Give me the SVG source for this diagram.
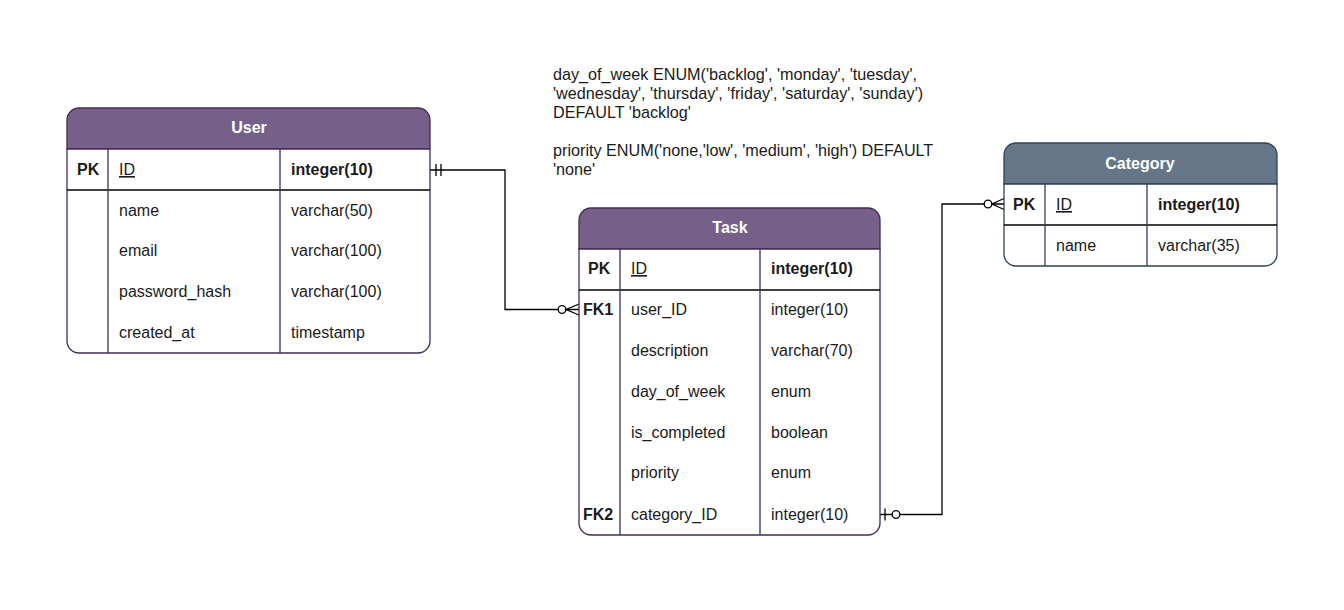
<svg xmlns="http://www.w3.org/2000/svg" width="1344" height="610" viewBox="0 0 1344 610">
<style>
text{font-family:"Liberation Sans",Arial,sans-serif;font-size:16px;fill:#1a1a1a}
.t{fill:#ffffff;font-weight:bold;text-anchor:middle}
.b{font-weight:bold}
.u{text-decoration:underline}
.ln{fill:none;stroke-width:1.3}
.c{fill:none;stroke:#000;stroke-width:1.3}
.ann{font-size:16.2px}
</style>
<rect width="1344" height="610" fill="#ffffff"/>
<g id="connectors">
  <path class="c" d="M430,170 H505 V309.5 H579"/>
  <path class="c" d="M436,164 V176 M441,164 V176"/>
  <circle cx="562" cy="309.5" r="3.8" fill="#fff" stroke="#000" stroke-width="1.3"/>
  <path class="c" d="M579,304 L566,309.5 L579,315"/>
  <path class="c" d="M880,514.5 H942 V204 H1004"/>
  <path class="c" d="M885,508.5 V520.5"/>
  <circle cx="896" cy="514.5" r="3.8" fill="#fff" stroke="#000" stroke-width="1.3"/>
  <circle cx="988" cy="204" r="3.8" fill="#fff" stroke="#000" stroke-width="1.3"/>
  <path class="c" d="M1004,198.5 L992,204 L1004,209.5"/>
</g>
<g id="note">
  <text class="ann" x="553" y="80">day_of_week ENUM('backlog', 'monday', 'tuesday',</text>
  <text class="ann" x="553" y="99">'wednesday', 'thursday', 'friday', 'saturday', 'sunday')</text>
  <text class="ann" x="553" y="118">DEFAULT 'backlog'</text>
  <text class="ann" x="553" y="156">priority ENUM('none,'low', 'medium', 'high') DEFAULT</text>
  <text class="ann" x="553" y="175">'none'</text>
</g>
<g id="user">
  <path d="M67,149 V120 A12,12 0 0 1 79,108 H418 A12,12 0 0 1 430,120 V149 Z" fill="#76608a" stroke="#432d57" stroke-width="1.3"/>
  <path d="M67,149 H430 V341 A12,12 0 0 1 418,353 H79 A12,12 0 0 1 67,341 Z" fill="#fff" stroke="#432d57" stroke-width="1.3"/>
  <path class="ln" stroke="#000" d="M67,190 H430"/>
  <path class="ln" stroke="#432d57" d="M108,149 V353 M280,149 V353"/>
  <text class="t" x="249" y="133">User</text>
  <text class="b" x="77" y="175">PK</text>
  <text class="u" x="119" y="175">ID</text>
  <text class="b" x="291" y="175">integer(10)</text>
  <text x="119" y="216">name</text><text x="291" y="216">varchar(50)</text>
  <text x="119" y="256">email</text><text x="291" y="256">varchar(100)</text>
  <text x="119" y="297">password_hash</text><text x="291" y="297">varchar(100)</text>
  <text x="119" y="338">created_at</text><text x="291" y="338">timestamp</text>
</g>
<g id="task">
  <path d="M579,249 V220 A12,12 0 0 1 591,208 H868 A12,12 0 0 1 880,220 V249 Z" fill="#76608a" stroke="#432d57" stroke-width="1.3"/>
  <path d="M579,249 H880 V523 A12,12 0 0 1 868,535 H591 A12,12 0 0 1 579,523 Z" fill="#fff" stroke="#432d57" stroke-width="1.3"/>
  <path class="ln" stroke="#000" d="M579,290 H880"/>
  <path class="ln" stroke="#432d57" d="M620,249 V535 M760,249 V535"/>
  <text class="t" x="730" y="233">Task</text>
  <text class="b" x="588" y="274">PK</text>
  <text class="u" x="631" y="274">ID</text>
  <text class="b" x="771" y="274">integer(10)</text>
  <text class="b" x="583" y="315">FK1</text><text x="631" y="315">user_ID</text><text x="771" y="315">integer(10)</text>
  <text x="631" y="356">description</text><text x="771" y="356">varchar(70)</text>
  <text x="631" y="397">day_of_week</text><text x="771" y="397">enum</text>
  <text x="631" y="438">is_completed</text><text x="771" y="438">boolean</text>
  <text x="631" y="478">priority</text><text x="771" y="478">enum</text>
  <text class="b" x="583" y="520">FK2</text><text x="631" y="520">category_ID</text><text x="771" y="520">integer(10)</text>
</g>
<g id="category">
  <path d="M1004,184 V155 A12,12 0 0 1 1016,143 H1265 A12,12 0 0 1 1277,155 V184 Z" fill="#647687" stroke="#314354" stroke-width="1.3"/>
  <path d="M1004,184 H1277 V254 A12,12 0 0 1 1265,266 H1016 A12,12 0 0 1 1004,254 Z" fill="#fff" stroke="#314354" stroke-width="1.3"/>
  <path class="ln" stroke="#000" d="M1004,225 H1277"/>
  <path class="ln" stroke="#314354" d="M1045,184 V266 M1147,184 V266"/>
  <text class="t" x="1140" y="169">Category</text>
  <text class="b" x="1013" y="210">PK</text>
  <text class="u" x="1056" y="210">ID</text>
  <text class="b" x="1158" y="210">integer(10)</text>
  <text x="1056" y="251">name</text><text x="1158" y="251">varchar(35)</text>
</g>
</svg>
